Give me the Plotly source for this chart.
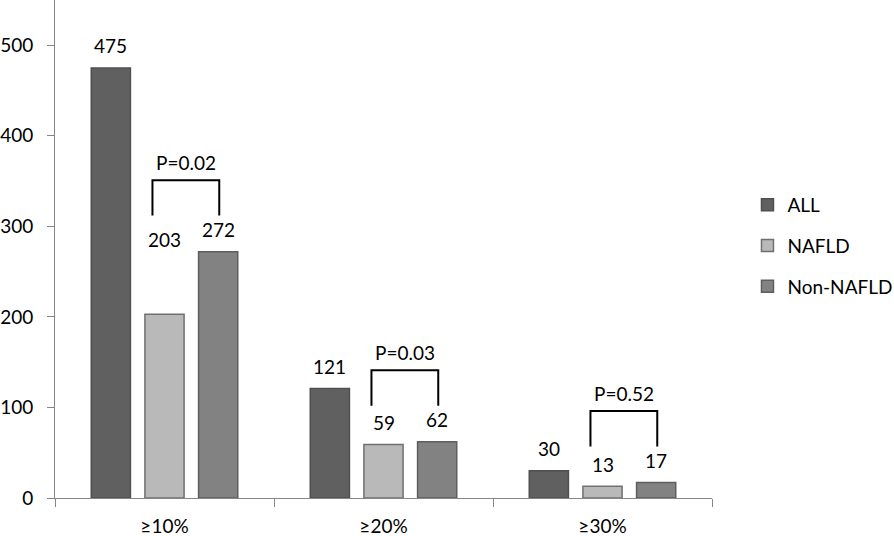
import plotly.graph_objects as go

# data
categories = ["≥10%", "≥20%", "≥30%"]
all_vals = [475, 121, 30]
nafld_vals = [203, 59, 13]
non_nafld_vals = [272, 62, 17]
p_labels = ["P=0.02", "P=0.03", "P=0.52"]

series = [
    ("ALL", all_vals, "#606060", "#4f4f4f"),
    ("NAFLD", nafld_vals, "#b9b9b9", "#707070"),
    ("Non-NAFLD", non_nafld_vals, "#828282", "#5e5e5e"),
]

FONT = "Lato"
BARGAP = 0.265
slot = (1 - BARGAP) / 3  # width of one bar slot in category units

fig = go.Figure()
for i, (name, vals, fill, edge) in enumerate(series):
    fig.add_trace(go.Bar(
        x=categories, y=vals, name=name, legendgroup=name,
        marker=dict(color=fill, line=dict(color=edge, width=1.5)),
        hoverinfo="x+y+name",
    ))

# value labels above the bars
for i, (name, vals, fill, edge) in enumerate(series):
    for c, v in enumerate(vals):
        shift = 22
        if c == 0 and i == 1:
            shift = 75  # label sits above the bar, under the bracket
        fig.add_annotation(
            x=c + (i - 1) * slot, y=v, text=str(v), showarrow=False,
            yshift=shift, yanchor="middle",
            font=dict(family=FONT, size=19, color="black"),
        )

# significance brackets between NAFLD and Non-NAFLD
for c, p in enumerate(p_labels):
    top = max(nafld_vals[c], non_nafld_vals[c])
    x0 = c - 0.055
    x1 = c + 0.25
    y_leg = top + 40
    y_top = top + 79
    fig.add_shape(type="path",
                  path=f"M {x0} {y_leg} L {x0} {y_top} L {x1} {y_top} L {x1} {y_leg}",
                  xref="x", yref="y", line=dict(color="black", width=2))
    fig.add_annotation(
        x=(x0 + x1) / 2, y=y_top, text=p, showarrow=False,
        yshift=18, yanchor="middle",
        font=dict(family=FONT, size=19, color="black"),
    )

fig.update_layout(
    width=894, height=536,
    margin=dict(l=55, r=182, t=0, b=38, autoexpand=False),
    paper_bgcolor="white", plot_bgcolor="white",
    barmode="group", bargap=BARGAP, bargroupgap=0.27,
    font=dict(family=FONT, size=19, color="black"),
    showlegend=True,
    legend=dict(x=1.054, xanchor="left", y=0.506, yanchor="middle",
                tracegroupgap=13, traceorder="grouped",
                itemwidth=30,
                font=dict(family=FONT, size=19)),
)
fig.update_xaxes(
    type="category", showline=True, linecolor="#868686", linewidth=1,
    ticks="outside", tickson="boundaries", ticklen=8, tickcolor="#868686",
    showgrid=False, ticklabelstandoff=11, automargin=False,
)
fig.update_yaxes(
    range=[0, 550], tickvals=[0, 100, 200, 300, 400, 500],
    showline=True, linecolor="#868686", linewidth=1,
    ticks="outside", ticklen=7, tickcolor="#868686",
    showgrid=False, zeroline=False, ticklabelstandoff=10, automargin=False,
)

# drop the default page margin so the figure sits at the window's corner
fig.write_html("out.html", config={"displayModeBar": False},
               post_script="document.body.style.margin='0';")
